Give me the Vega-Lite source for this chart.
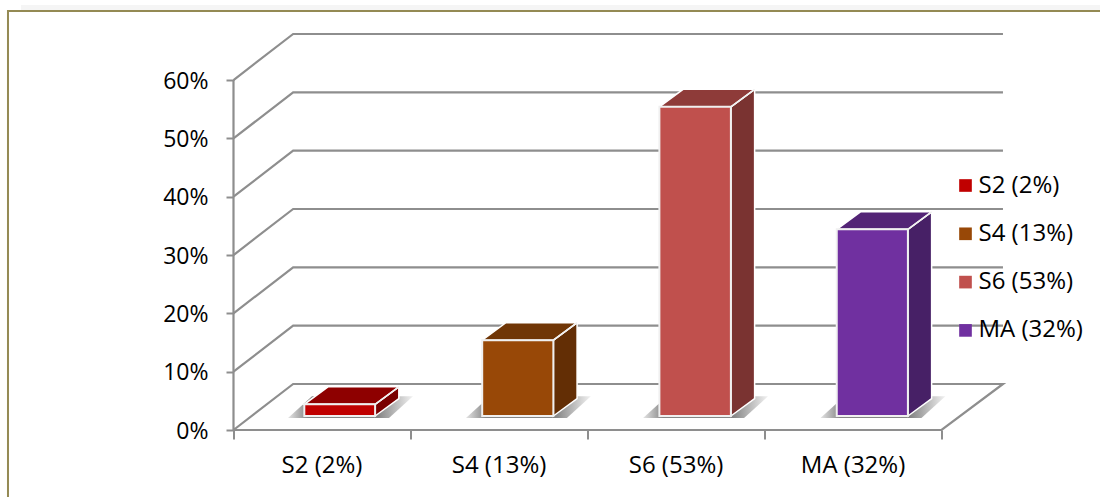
{
  "$schema": "https://vega.github.io/schema/vega-lite/v6.json",
  "width": 770,
  "height": 396,
  "autosize": "none",
  "padding": {"left": 233.5, "top": 34, "right": 96.5, "bottom": 67},
  "background": "white",
  "config": {"view": {"stroke": null}, "font": "Open Sans"},
  "datasets": {
    "glow": [
      {"edge": "glow", "step": 1, "x": -1.2, "y": 0.7245},
      {"edge": "glow", "step": 2, "x": 4.9, "y": 0.7245}
    ],
    "frame": [
      {"edge": "frame", "step": 1, "x": 4.9, "y": 0.7183},
      {"edge": "frame", "step": 2, "x": -1.274, "y": 0.7183},
      {"edge": "frame", "step": 3, "x": -1.274, "y": -0.12}
    ],
    "walls": [
      {"edge": "floor", "step": 1, "x": 0, "y": 0},
      {"edge": "floor", "step": 2, "x": 0.337, "y": 0.0789},
      {"edge": "floor", "step": 3, "x": 4.347, "y": 0.0789},
      {"edge": "floor", "step": 4, "x": 4, "y": 0},
      {"edge": "floor", "step": 5, "x": 0, "y": 0},
      {"edge": "floor", "step": 6, "x": 0, "y": 0.6},
      {"edge": "10%", "step": 1, "x": 0, "y": 0.1},
      {"edge": "10%", "step": 2, "x": 0.337, "y": 0.1789},
      {"edge": "10%", "step": 3, "x": 4.347, "y": 0.1789},
      {"edge": "20%", "step": 1, "x": 0, "y": 0.2},
      {"edge": "20%", "step": 2, "x": 0.337, "y": 0.2789},
      {"edge": "20%", "step": 3, "x": 4.347, "y": 0.2789},
      {"edge": "30%", "step": 1, "x": 0, "y": 0.3},
      {"edge": "30%", "step": 2, "x": 0.337, "y": 0.3789},
      {"edge": "30%", "step": 3, "x": 4.347, "y": 0.3789},
      {"edge": "40%", "step": 1, "x": 0, "y": 0.4},
      {"edge": "40%", "step": 2, "x": 0.337, "y": 0.4789},
      {"edge": "40%", "step": 3, "x": 4.347, "y": 0.4789},
      {"edge": "50%", "step": 1, "x": 0, "y": 0.5},
      {"edge": "50%", "step": 2, "x": 0.337, "y": 0.5789},
      {"edge": "50%", "step": 3, "x": 4.347, "y": 0.5789},
      {"edge": "60%", "step": 1, "x": 0, "y": 0.6},
      {"edge": "60%", "step": 2, "x": 0.337, "y": 0.6789},
      {"edge": "60%", "step": 3, "x": 4.347, "y": 0.6789}
    ],
    "bars": [
      {"series": "S2 (2%)", "value": 0.02, "start": 0.4, "end": 0.8, "center": 0.5},
      {"series": "S4 (13%)", "value": 0.13, "start": 1.405, "end": 1.807, "center": 1.5},
      {"series": "S6 (53%)", "value": 0.53, "start": 2.406, "end": 2.81, "center": 2.5},
      {"series": "MA (32%)", "value": 0.32, "start": 3.408, "end": 3.81, "center": 3.5}
    ],
    "sides": [
      {"series": "S2 (2%)", "x": 0.8, "low": 0, "high": 0.02},
      {"series": "S2 (2%)", "x": 0.934, "low": 0.03, "high": 0.05},
      {"series": "S4 (13%)", "x": 1.807, "low": 0, "high": 0.13},
      {"series": "S4 (13%)", "x": 1.941, "low": 0.03, "high": 0.16},
      {"series": "S6 (53%)", "x": 2.81, "low": 0, "high": 0.53},
      {"series": "S6 (53%)", "x": 2.944, "low": 0.03, "high": 0.56},
      {"series": "MA (32%)", "x": 3.81, "low": 0, "high": 0.32},
      {"series": "MA (32%)", "x": 3.944, "low": 0.03, "high": 0.35}
    ],
    "tops": [
      {"series": "S2 (2%)", "x": 0.4, "low": 0.02, "high": 0.02},
      {"series": "S2 (2%)", "x": 0.534, "low": 0.02, "high": 0.05},
      {"series": "S2 (2%)", "x": 0.8, "low": 0.02, "high": 0.05},
      {"series": "S2 (2%)", "x": 0.934, "low": 0.05, "high": 0.05},
      {"series": "S4 (13%)", "x": 1.405, "low": 0.13, "high": 0.13},
      {"series": "S4 (13%)", "x": 1.539, "low": 0.13, "high": 0.16},
      {"series": "S4 (13%)", "x": 1.807, "low": 0.13, "high": 0.16},
      {"series": "S4 (13%)", "x": 1.941, "low": 0.16, "high": 0.16},
      {"series": "S6 (53%)", "x": 2.406, "low": 0.53, "high": 0.53},
      {"series": "S6 (53%)", "x": 2.54, "low": 0.53, "high": 0.56},
      {"series": "S6 (53%)", "x": 2.81, "low": 0.53, "high": 0.56},
      {"series": "S6 (53%)", "x": 2.944, "low": 0.56, "high": 0.56},
      {"series": "MA (32%)", "x": 3.408, "low": 0.32, "high": 0.32},
      {"series": "MA (32%)", "x": 3.542, "low": 0.32, "high": 0.35},
      {"series": "MA (32%)", "x": 3.81, "low": 0.32, "high": 0.35},
      {"series": "MA (32%)", "x": 3.944, "low": 0.35, "high": 0.35}
    ],
    "shadows": [
      {"series": "S2 (2%)", "x": 0.308, "low": 0.0206, "high": 0.0206},
      {"series": "S2 (2%)", "x": 0.4435, "low": 0.0206, "high": 0.058},
      {"series": "S2 (2%)", "x": 0.8785, "low": 0.0206, "high": 0.058},
      {"series": "S2 (2%)", "x": 1.014, "low": 0.058, "high": 0.058},
      {"series": "S4 (13%)", "x": 1.313, "low": 0.0206, "high": 0.0206},
      {"series": "S4 (13%)", "x": 1.4485, "low": 0.0206, "high": 0.058},
      {"series": "S4 (13%)", "x": 1.8835, "low": 0.0206, "high": 0.058},
      {"series": "S4 (13%)", "x": 2.019, "low": 0.058, "high": 0.058},
      {"series": "S6 (53%)", "x": 2.314, "low": 0.0206, "high": 0.0206},
      {"series": "S6 (53%)", "x": 2.4495, "low": 0.0206, "high": 0.058},
      {"series": "S6 (53%)", "x": 2.8845, "low": 0.0206, "high": 0.058},
      {"series": "S6 (53%)", "x": 3.02, "low": 0.058, "high": 0.058},
      {"series": "MA (32%)", "x": 3.316, "low": 0.0206, "high": 0.0206},
      {"series": "MA (32%)", "x": 3.4515, "low": 0.0206, "high": 0.058},
      {"series": "MA (32%)", "x": 3.8865, "low": 0.0206, "high": 0.058},
      {"series": "MA (32%)", "x": 4.022, "low": 0.058, "high": 0.058}
    ]
  },
  "resolve": {"scale": {"color": "independent"}},
  "encoding": {
    "x": {
      "type": "quantitative",
      "scale": {"domain": [0, 4.35], "nice": false, "zero": false},
      "title": null,
      "axis": {"values": [0, 1, 2, 3, 4], "labels": false, "domain": false, "grid": false, "ticks": true, "tickSize": 9, "tickWidth": 2, "tickColor": "#8e8e8e", "title": null}
    },
    "y": {
      "type": "quantitative",
      "scale": {"domain": [0, 0.6789], "nice": false, "zero": false},
      "title": null,
      "axis": {"values": [0, 0.1, 0.2, 0.3, 0.4, 0.5, 0.6], "format": ".0%", "domain": false, "grid": false, "tickSize": 7.5, "tickWidth": 2, "tickColor": "#8e8e8e", "labelFont": "Open Sans", "labelFontSize": 23, "labelColor": "#000000", "labelPadding": 18, "labelAlign": "right", "labelOffset": 1, "title": null}
    }
  },
  "layer": [
    {
      "description": "Faint glow above the panel border",
      "data": {"name": "glow"},
      "mark": {"type": "line", "color": "#f5f5f5", "strokeWidth": 5, "clip": false},
      "encoding": {
        "x": {"field": "x"},
        "y": {"field": "y"},
        "detail": {"field": "edge"},
        "order": {"field": "step"}
      }
    },
    {
      "description": "Outer panel border along the top and left",
      "data": {"name": "frame"},
      "mark": {"type": "line", "color": "#948A54", "strokeWidth": 2, "clip": false},
      "encoding": {
        "x": {"field": "x"},
        "y": {"field": "y"},
        "detail": {"field": "edge"},
        "order": {"field": "step"}
      }
    },
    {
      "description": "Wall gridlines and floor outline",
      "data": {"name": "walls"},
      "mark": {"type": "line", "color": "#8e8e8e", "strokeWidth": 2.2},
      "encoding": {
        "x": {"field": "x"},
        "y": {"field": "y"},
        "detail": {"field": "edge"},
        "order": {"field": "step"}
      }
    },
    {
      "description": "Soft floor shadows",
      "data": {"name": "shadows"},
      "mark": {
        "type": "area",
        "color": {
          "gradient": "linear", "x1": 0, "x2": 1, "y1": 0, "y2": 0,
          "stops": [
            {"offset": 0, "color": "#e4e4e4"},
            {"offset": 0.16, "color": "#858585"},
            {"offset": 0.72, "color": "#858585"},
            {"offset": 1, "color": "#f2f2f2"}
          ]
        }
      },
      "encoding": {
        "x": {"field": "x"},
        "y": {"field": "low"},
        "y2": {"field": "high"},
        "detail": {"field": "series"}
      }
    },
    {
      "description": "Right-hand faces of the bars",
      "data": {"name": "sides"},
      "mark": {"type": "area", "yOffset": -14, "y2Offset": -14, "stroke": "white", "strokeWidth": 1.5, "opacity": 1},
      "encoding": {
        "x": {"field": "x"},
        "y": {"field": "low"},
        "y2": {"field": "high"},
        "color": {
          "field": "series", "type": "nominal", "legend": null,
          "scale": {"domain": ["S2 (2%)", "S4 (13%)", "S6 (53%)", "MA (32%)"], "range": ["#7A0000", "#632E05", "#7A3331", "#472066"]}
        }
      }
    },
    {
      "description": "Top faces of the bars",
      "data": {"name": "tops"},
      "mark": {"type": "area", "yOffset": -14, "y2Offset": -14, "stroke": "white", "strokeWidth": 1.5, "opacity": 1},
      "encoding": {
        "x": {"field": "x"},
        "y": {"field": "low"},
        "y2": {"field": "high"},
        "color": {
          "field": "series", "type": "nominal", "legend": null,
          "scale": {"domain": ["S2 (2%)", "S4 (13%)", "S6 (53%)", "MA (32%)"], "range": ["#8E0000", "#703606", "#8E3B39", "#532476"]}
        }
      }
    },
    {
      "description": "Front faces of the bars, drawn from the stated percentages",
      "data": {"name": "bars"},
      "mark": {"type": "rect", "yOffset": -14, "y2Offset": -14, "stroke": "#f0f0f0", "strokeWidth": 2},
      "encoding": {
        "x": {"field": "start"},
        "x2": {"field": "end"},
        "y": {"field": "value"},
        "y2": {"datum": 0},
        "color": {
          "field": "series", "type": "nominal", "title": null,
          "scale": {"domain": ["S2 (2%)", "S4 (13%)", "S6 (53%)", "MA (32%)"], "range": ["#C00000", "#984807", "#C0504D", "#7030A0"]},
          "legend": {
            "orient": "none", "legendX": 720, "legendY": 139.5,
            "symbolType": "square", "symbolSize": 160, "symbolStrokeWidth": 0,
            "labelFont": "Open Sans", "labelFontSize": 24, "labelColor": "#000000", "labelLimit": 200,
            "labelOffset": 1, "rowPadding": 24.3, "padding": 0
          }
        }
      }
    },
    {
      "description": "Pale edge between top and side faces",
      "data": {"name": "sides"},
      "mark": {"type": "line", "color": "#f0f0f0", "strokeWidth": 1.5, "yOffset": -14},
      "encoding": {
        "x": {"field": "x"},
        "y": {"field": "high"},
        "detail": {"field": "series"}
      }
    },
    {
      "description": "Category names under the floor",
      "data": {"name": "bars"},
      "mark": {"type": "text", "font": "Open Sans", "fontSize": 24, "color": "#000000", "baseline": "middle", "dy": 36},
      "encoding": {
        "x": {"field": "center"},
        "y": {"datum": 0},
        "text": {"field": "series"}
      }
    }
  ]
}
